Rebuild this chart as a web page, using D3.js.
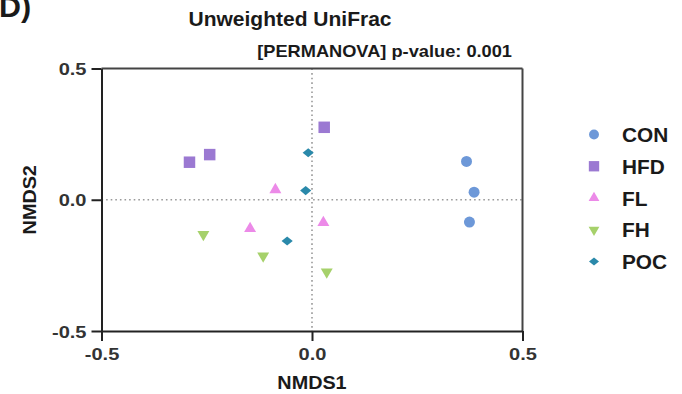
<!DOCTYPE html>
<html>
<head>
<meta charset="utf-8">
<script src="https://cdn.jsdelivr.net/npm/d3@7"></script>
<style>
  html, body { margin: 0; padding: 0; background: #fff; }
  svg { display: block; font-family: "Liberation Sans", Arial, sans-serif; }
</style>
</head>
<body>
<svg id="chart" width="682" height="394"></svg>
<script>
// ---- data ----
const groups = ["CON", "HFD", "FL", "FH", "POC"];
const colors = ["#6d98d8", "#9b79d2", "#ec8ae8", "#a6d16b", "#2a89aa"];
const conX = [0.367, 0.385, 0.374];
const conY = [0.146, 0.029, -0.085];
const hfdX = [-0.291, -0.243, 0.029];
const hfdY = [0.143, 0.172, 0.276];
const flX  = [-0.087, -0.147, 0.027];
const flY  = [0.038, -0.110, -0.087];
const fhX  = [-0.258, -0.116, 0.035];
const fhY  = [-0.132, -0.214, -0.275];
const pocX = [-0.009, -0.015, -0.059];
const pocY = [0.179, 0.035, -0.157];
const xTicks = [-0.5, 0.0, 0.5];
const yTicks = [-0.5, 0.0, 0.5];
const title = "Unweighted UniFrac";
const subtitle = "[PERMANOVA] p-value: 0.001";
const panelLabel = "D)";
const xLabel = "NMDS1";
const yLabel = "NMDS2";

const seriesX = [conX, hfdX, flX, fhX, pocX];
const seriesY = [conY, hfdY, flY, fhY, pocY];

const svg = d3.select("#chart");
const x = d3.scaleLinear().domain([-0.5, 0.5]).range([101.5, 522.5]);
const y = d3.scaleLinear().domain([-0.5, 0.5]).range([331, 68.5]);
const fmt = d3.formatLocale({decimal: ".", thousands: ",", grouping: [3], currency: ["", ""], minus: "-"}).format(".1f");

// symbol path generators per group
function symbolPath(i) {
  if (i === 0) return { d: d3.symbol(d3.symbolCircle, 95)(), t: "" };
  if (i === 1) return { d: d3.symbol(d3.symbolSquare, 132)(), t: "" };
  if (i === 2) return { d: d3.symbol(d3.symbolTriangle, 62)(), t: "" };
  if (i === 3) return { d: d3.symbol(d3.symbolTriangle, 62)(), t: " rotate(180)" };
  return { d: d3.symbol(d3.symbolSquare, 62)(), t: " scale(1,0.82) rotate(45)" };
}

// zero reference lines (dotted)
svg.append("line")
  .attr("x1", x(0)).attr("x2", x(0)).attr("y1", y(0.5)).attr("y2", y(-0.5))
  .attr("stroke", "#9a9a9a").attr("stroke-width", 1.6).attr("stroke-dasharray", "1.6,3");
svg.append("line")
  .attr("x1", x(-0.5)).attr("x2", x(0.5)).attr("y1", y(0)).attr("y2", y(0))
  .attr("stroke", "#9a9a9a").attr("stroke-width", 1.6).attr("stroke-dasharray", "1.6,3");

// frame (top + right)
svg.append("line")
  .attr("x1", x(-0.5)).attr("x2", x(0.5)).attr("y1", y(0.5)).attr("y2", y(0.5))
  .attr("stroke", "#444").attr("stroke-width", 2);
svg.append("line")
  .attr("x1", x(0.5)).attr("x2", x(0.5)).attr("y1", y(0.5)).attr("y2", y(-0.5))
  .attr("stroke", "#444").attr("stroke-width", 2);

// axes
const gx = svg.append("g").attr("transform", `translate(0,${y(-0.5)})`)
  .call(d3.axisBottom(x).tickValues(xTicks).tickFormat(fmt).tickSize(10).tickSizeOuter(0).tickPadding(5));
const gy = svg.append("g").attr("transform", `translate(${x(-0.5)},0)`)
  .call(d3.axisLeft(y).tickValues(yTicks).tickFormat(fmt).tickSize(10).tickSizeOuter(0).tickPadding(5));
[gx, gy].forEach(g => {
  g.selectAll(".domain, .tick line").attr("stroke", "#222").attr("stroke-width", 2);
  g.selectAll("text").attr("font-family", "Liberation Sans, Arial, sans-serif")
    .attr("font-size", 17).attr("font-weight", "bold").attr("fill", "#333");
});
const sxTick = 1.18;
gx.selectAll("text").attr("y", 0).attr("dy", 0)
  .attr("transform", `translate(0,29) scale(${sxTick},1)`);
gy.selectAll("text").attr("x", 0).attr("dy", 0)
  .attr("transform", `translate(-15,6) scale(${sxTick},1)`);

// text helper
function label(txt, px, py, size, anchor, sx, weight, rot) {
  return svg.append("text")
    .attr("transform", `translate(${px},${py})` + (rot ? ` rotate(${rot})` : "") + ` scale(${sx},1)`)
    .attr("text-anchor", anchor)
    .attr("font-size", size)
    .attr("font-weight", weight)
    .attr("fill", "#1a1a1a")
    .text(txt);
}

label(panelLabel, -1, 17, 29, "start", 1.05, "bold");
label(title, 290, 26, 21, "middle", 1.0, "bold");
label(subtitle, 512, 57, 16, "end", 1.14, "bold");
label(xLabel, x(0), 389, 18, "middle", 1.1, "bold");
label(yLabel, 36, y(0), 18, "middle", 1.1, "bold", -90);

// points
seriesX.forEach((xs, i) => {
  const sp = symbolPath(i);
  svg.append("g").selectAll("path")
    .data(xs.map((v, j) => [v, seriesY[i][j]]))
    .join("path")
    .attr("d", sp.d)
    .attr("transform", d => `translate(${x(d[0])},${y(d[1])})` + sp.t)
    .attr("fill", colors[i]);
});

// legend
const legY = d3.scalePoint().domain(groups).range([134.5, 261.5]);
groups.forEach((g, i) => {
  const sp = symbolPath(i);
  svg.append("path")
    .attr("d", sp.d)
    .attr("transform", `translate(594,${legY(g)}) scale(0.9)` + sp.t)
    .attr("fill", colors[i]);
  label(g, 622, legY(g) + 7.5, 20, "start", 1.04, "bold");
});
</script>
</body>
</html>
